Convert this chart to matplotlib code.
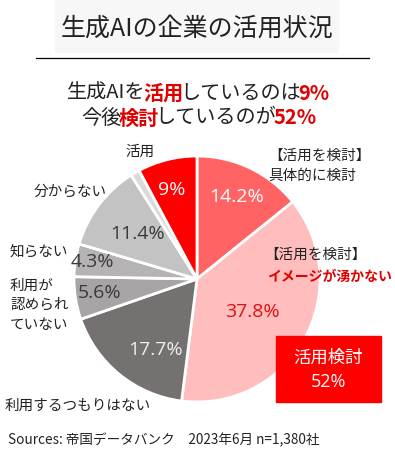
import matplotlib
matplotlib.use("Agg")
import matplotlib.pyplot as plt
from matplotlib.patches import Rectangle

plt.rcParams['font.family'] = ['Noto Sans CJK JP', 'DejaVu Sans']

# slices, clockwise from 12 o'clock
categories = ["具体的に検討", "イメージが湧かない", "利用するつもりはない", "利用が認められていない",
              "知らない", "分からない", "その他", "活用"]
values = [14.2, 37.8, 17.7, 5.6, 4.3, 11.4, 1.2, 7.8]
pct_labels = ["14.2%", "37.8%", "17.7%", "5.6%", "4.3%", "11.4%", "", "9%"]
colors = ["#FF6363", "#FFBDBD", "#767171", "#A6A4A4", "#B5B3B3", "#C3C3C3", "#DADADA", "#FF0000"]
pct_colors = ["white", "#E01010", "#EEEEEE", "#3A3A3A", "#3A3A3A", "#3A3A3A", "white", "white"]

W, H = 395, 453
fig = plt.figure(figsize=(W / 100, H / 100), dpi=100)

def px(x, y):
    return x / W, 1 - y / H

# title
fig.patches.append(Rectangle(px(55, 52), 283 / W, 52 / H, transform=fig.transFigure,
                             color="#F7F7F7", zorder=0))
fig.text(*px(197, 29), "生成AIの企業の活用状況", ha="center", va="center", fontsize=18, color="#222222")
fig.add_artist(plt.Line2D([36 / W, 369 / W], [1 - 58 / H] * 2, color="black", lw=0.9))

# subtitle with mixed styles; positions from widths of the plain prefixes
renderer = fig.canvas.get_renderer()

def text_w(s, size, bold=False):
    t = fig.text(0, 0, s, fontsize=size, fontweight="bold" if bold else "normal")
    w = t.get_window_extent(renderer).width
    t.remove()
    return w

def rich_line(y, parts, size=14.5, kern=-3):
    full = "".join(s for s, _ in parts)
    x0 = (W - text_w(full, size) - kern * (len(parts) - 1)) / 2
    prefix = ""
    for i, (s, bold) in enumerate(parts):
        x = x0 + (text_w(prefix + "|", size) - text_w("|", size) if prefix else 0) + kern * i
        fig.text(x / W, 1 - y / H, s, fontsize=size, va="center",
                 color="#E00000" if bold else "#222222",
                 fontweight="bold" if bold else "normal")
        prefix += s

rich_line(93, [("生成AIを", False), ("活用", True), ("しているのは", False), ("9%", True)])
rich_line(118, [("今後", False), ("検討", True), ("しているのが", False), ("52%", True)])

# pie
cx, cy, R = 197, 279, 123
ax = fig.add_axes([(cx - R) / W, (H - cy - R) / H, 2 * R / W, 2 * R / H])
wedges, _ = ax.pie(values, colors=colors, startangle=90, counterclock=False,
                   wedgeprops=dict(edgecolor="white", linewidth=2))
ax.set_xlim(-1, 1)
ax.set_ylim(-1, 1)
ax.axis("off")

pct_pos = [(237, 197), (252, 312), (155, 350), (100, 293), (92, 262), (137, 234), None, (172, 190)]
for lab, pos, c in zip(pct_labels, pct_pos, pct_colors):
    if pos:
        fig.text(*px(*pos), lab, ha="center", va="center", fontsize=14, color=c,
                 family=["Open Sans", "DejaVu Sans"])

# category labels
lab_kw = dict(fontsize=10.5, color="#222222", va="center")
fig.text(*px(140, 152), "活用", ha="center", **lab_kw)
fig.text(*px(70, 192), "分からない", ha="center", **lab_kw)
fig.text(*px(10, 252), "知らない", ha="left", **lab_kw)
fig.text(*px(10, 305), "利用が\n認められ\nていない", ha="left", linespacing=1.5, **lab_kw)
fig.text(*px(5, 406), "利用するつもりはない", ha="left", **lab_kw)
fig.text(*px(268, 166), "【活用を検討】\n具体的に検討", ha="left", linespacing=1.5, **lab_kw)
fig.text(*px(264, 255), "【活用を検討】", ha="left", **lab_kw)
fig.text(*px(267, 277), "イメージが湧かない", ha="left", fontsize=10, color="#E00000",
         fontweight="bold", va="center")

# summary box
fig.patches.append(Rectangle(px(276, 402), 105 / W, 66 / H, transform=fig.transFigure,
                             color="#FF0000", zorder=1))
fig.text(*px(328, 358), "活用検討", ha="center", va="center", fontsize=12.5, color="white")
fig.text(*px(328, 382), "52%", ha="center", va="center", fontsize=13, color="white",
         family=["Open Sans", "DejaVu Sans"])

fig.text(*px(8, 440), "Sources: 帝国データバンク　2023年6月 n=1,380社", ha="left", va="center",
         fontsize=9.8, color="#222222")

fig.savefig("out.png", dpi=100)
